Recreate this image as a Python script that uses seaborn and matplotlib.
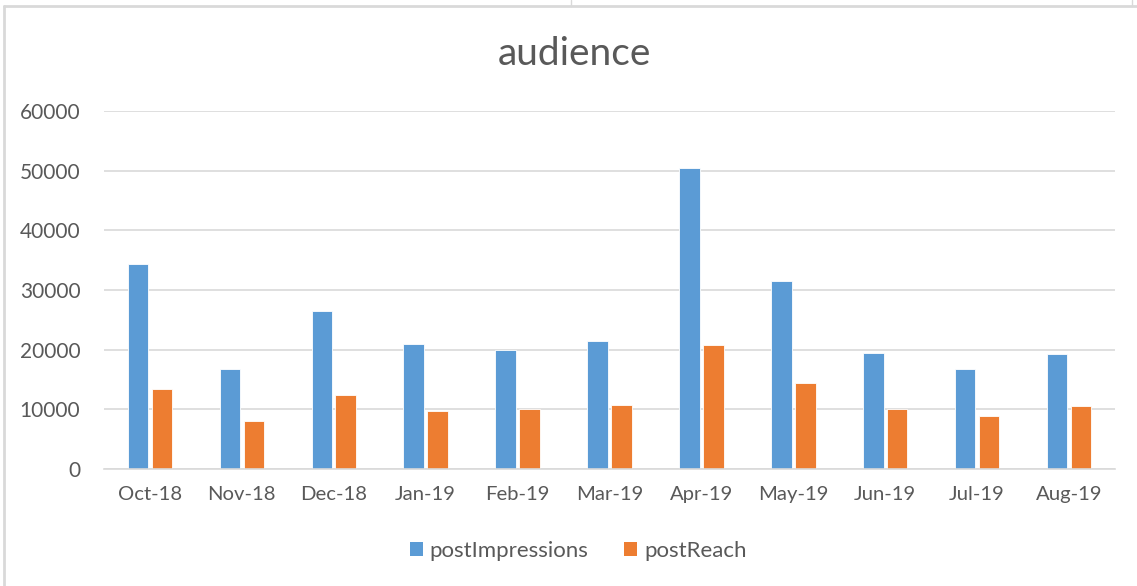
import numpy as np
import pandas as pd
import matplotlib.pyplot as plt
import seaborn as sns
from matplotlib.patches import Patch
from matplotlib.lines import Line2D

# Data
months = ["Oct-18", "Nov-18", "Dec-18", "Jan-19", "Feb-19", "Mar-19",
          "Apr-19", "May-19", "Jun-19", "Jul-19", "Aug-19"]
post_impressions = [34400, 16700, 26500, 21000, 20000, 21400,
                    50500, 31500, 19400, 16800, 19200]
post_reach = [13400, 8000, 12400, 9700, 10000, 10800,
              20800, 14400, 10100, 8800, 10600]

df = pd.DataFrame({"month": months * 2,
                   "value": post_impressions + post_reach,
                   "series": ["postImpressions"] * len(months) + ["postReach"] * len(months)})

sns.set_style("white")
plt.rcParams['font.family'] = ['Lato', 'DejaVu Sans']
text_col = "#595959"
grid_col = "#D9D9D9"
colors = {"postImpressions": "#5B9BD5", "postReach": "#ED7D31"}

fig = plt.figure(figsize=(11.37, 5.86), dpi=100)
ax = fig.add_axes([104 / 1137, 1 - 469 / 586, (1115 - 104) / 1137, (469 - 111) / 586])

sns.barplot(data=df, x="month", y="value", hue="series", palette=colors,
            saturation=1, width=0.52, gap=0.14, ax=ax, edgecolor="white",
            linewidth=0.6, legend=False)

ax.set_ylim(0, 60000)
ax.set_xlim(-0.5, len(months) - 0.5)
ax.set_yticks(range(0, 60001, 10000))
ax.yaxis.grid(True, color=grid_col, linewidth=1.2)
ax.set_axisbelow(True)
for s in ["top", "right", "left"]:
    ax.spines[s].set_visible(False)
ax.spines["bottom"].set_color(grid_col)
ax.spines["bottom"].set_linewidth(1.2)
ax.set_xlabel("")
ax.set_ylabel("")
ax.tick_params(axis="y", length=0, pad=17, labelsize=15, labelcolor=text_col)
ax.tick_params(axis="x", which="major", length=0, pad=12, labelsize=14.6, labelcolor=text_col)
ax.set_xticks(np.arange(-0.5, len(months)), minor=True)
ax.tick_params(axis="x", which="minor", length=6, width=1.2, color=grid_col, direction="out")

fig.text(574 / 1137, 1 - 54 / 586, "audience", ha="center", va="center",
         fontsize=28, color=text_col)

handles = [Patch(facecolor=colors[k], edgecolor="none", label=k) for k in colors]
fig.legend(handles=handles, loc="center", bbox_to_anchor=(578 / 1137, 1 - 551 / 586),
           ncol=2, frameon=False, fontsize=16, labelcolor=text_col,
           handlelength=0.6, handleheight=0.6, handletextpad=0.3, columnspacing=1.6)

# chart frame
fig.add_artist(Line2D([3.5 / 1137, 1], [1 - 5.5 / 586] * 2, color=grid_col, linewidth=2))
fig.add_artist(Line2D([3.5 / 1137] * 2, [0, 1 - 5.5 / 586], color=grid_col, linewidth=2))
fig.add_artist(Line2D([571 / 1137] * 2, [1 - 5.5 / 586, 1], color=grid_col, linewidth=1))
fig.add_artist(Line2D([1132 / 1137] * 2, [1 - 5.5 / 586, 1], color=grid_col, linewidth=1))

fig.savefig("out.png", dpi=100)
